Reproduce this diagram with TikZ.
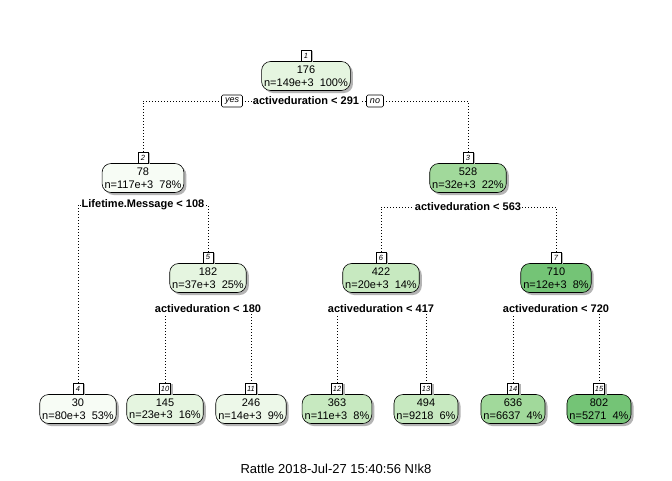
\documentclass[tikz,border=0pt]{standalone}
\usepackage{fontspec}
\setmainfont{Liberation Sans}
\usetikzlibrary{shadows,backgrounds}
\definecolor{g0}{HTML}{F7FCF5}
\definecolor{g1}{HTML}{E5F5E0}
\definecolor{g1b}{HTML}{EDF8E9}
\definecolor{g2}{HTML}{C7E9C0}
\definecolor{g3}{HTML}{A1D99B}
\definecolor{g4}{HTML}{74C476}
\definecolor{shad}{HTML}{B4B4B4}
\begin{document}
\begin{tikzpicture}[x=1pt,y=-1pt,
  tbox/.style={draw, line width=0.6pt, rounded corners=9pt, align=center,
    font=\fontsize{11}{12.5}\selectfont, inner xsep=2.5pt, inner ysep=1pt,
    minimum height=29pt,
    drop shadow={shadow xshift=2.5pt, shadow yshift=-2.5pt, fill=shad, opacity=1}},
  numbox/.style={draw, fill=white, line width=0.5pt, font=\fontsize{7.5}{8}\selectfont\itshape,
    inner xsep=1.5pt, inner ysep=0pt, minimum width=9.5pt, minimum height=11pt, anchor=south,
    drop shadow={shadow xshift=2pt, shadow yshift=-1.5pt, fill=shad, opacity=1}},
  splitlab/.style={fill=white, font=\fontsize{11}{12}\selectfont\bfseries, inner xsep=1pt, inner ysep=1pt},
  yn/.style={draw, fill=white, line width=0.6pt, rounded corners=1.5pt, font=\fontsize{9}{10}\selectfont\itshape,
    inner xsep=3.5pt, inner ysep=0pt, minimum height=12pt},
  conn/.style={line width=0.7pt, dash pattern=on 0.7pt off 2.3pt}]
\useasboundingbox (0,0) rectangle (672,480);
% boxes
\node[tbox, fill=g1] (b1) at (306,76) {176\\n=149e+3\ \ 100\%};
\node[tbox, fill=g0] (b2) at (143,178) {78\\n=117e+3\ \ 78\%};
\node[tbox, fill=g3] (b3) at (468,178) {528\\n=32e+3\ \ 22\%};
\node[tbox, fill=g1] (b5) at (208,278) {182\\n=37e+3\ \ 25\%};
\node[tbox, fill=g2] (b6) at (381,278) {422\\n=20e+3\ \ 14\%};
\node[tbox, fill=g4] (b7) at (556,278) {710\\n=12e+3\ \ 8\%};
\node[tbox, fill=g0] (b4) at (78,409) {30\\n=80e+3\ \ 53\%};
\node[tbox, fill=g1] (b10) at (165,409) {145\\n=23e+3\ \ 16\%};
\node[tbox, fill=g1b] (b11) at (251,409) {246\\n=14e+3\ \ 9\%};
\node[tbox, fill=g2] (b12) at (337,409) {363\\n=11e+3\ \ 8\%};
\node[tbox, fill=g2] (b13) at (426,409) {494\\n=9218\ \ 6\%};
\node[tbox, fill=g3] (b14) at (513,409) {636\\n=6637\ \ 4\%};
\node[tbox, fill=g4] (b15) at (599,409) {802\\n=5271\ \ 4\%};
% number boxes
\foreach \i in {1,2,3,4,5,6,7,10,11,12,13,14,15}
  \node[numbox] (n\i) at (b\i.north) {\i};
% split labels
\node[splitlab] (s1) at (306,101) {activeduration < 291};
\node[splitlab] (s2) at (143,205) {Lifetime.Message < 108};
\node[splitlab] (s3) at (468,207) {activeduration < 563};
\node[splitlab] (s5) at (208,309) {activeduration < 180};
\node[splitlab] (s6) at (381,309) {activeduration < 417};
\node[splitlab] (s7) at (556,309) {activeduration < 720};
\node[yn] (yes) at (232,101) {yes};
\node[yn] (no) at (375,101) {no};
% title
\node[font=\fontsize{13}{15}\selectfont] (title) at (336,469) {Rattle 2018-Jul-27 15:40:56 N!k8};
% connectors
\begin{scope}[on background layer]
\fill[white] (0,0) rectangle (672,480);
\draw[conn] (n2.north) |- (s1.center) -| (n3.north);
\draw[conn] (n4.north) |- (s2.center) -| (n5.north);
\draw[conn] (n6.north) |- (s3.center) -| (n7.north);
\draw[conn] (n10.north) |- (s5.center) -| (n11.north);
\draw[conn] (n12.north) |- (s6.center) -| (n13.north);
\draw[conn] (n14.north) |- (s7.center) -| (n15.north);
\end{scope}
\end{tikzpicture}
\end{document}
